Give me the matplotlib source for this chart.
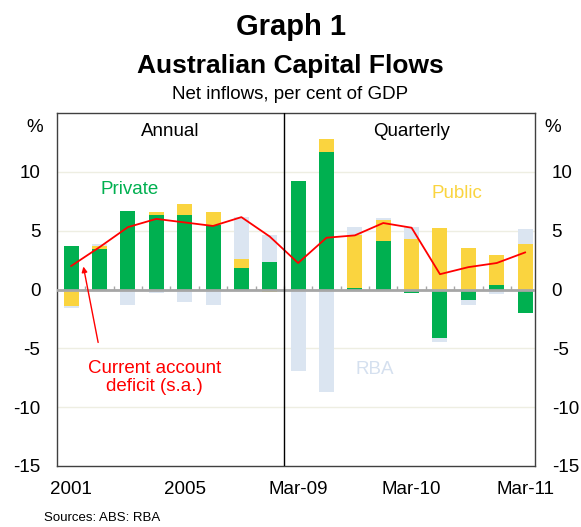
import numpy as np
import matplotlib.pyplot as plt

plt.rcParams['font.family'] = ['Liberation Sans', 'DejaVu Sans']

# periods: 2001-2008 annual, Mar-09 to Mar-11 quarterly
periods = ['2001', '2002', '2003', '2004', '2005', '2006', '2007', '2008',
           'Mar-09', 'Jun-09', 'Sep-09', 'Dec-09', 'Mar-10', 'Jun-10',
           'Sep-10', 'Dec-10', 'Mar-11']
private = [3.7, 3.4, 6.7, 6.3, 6.3, 5.5, 1.8, 2.3,
           9.2, 11.7, 0.1, 4.1, -0.3, -4.15, -0.85, 0.4, -2.0]
public = [-1.4, 0.3, -0.15, 0.3, 0.95, 1.05, 0.8, -0.25,
          -0.05, 1.1, 4.5, 1.8, 4.3, 5.2, 3.5, 2.5, 3.9]
rba = [-0.15, 0.2, -1.2, -0.3, -1.1, -1.35, 3.6, 2.35,
       -6.9, -8.7, 0.7, 0.15, 1.0, -0.3, -0.5, -0.35, 1.2]
cad = [2.0, 3.6, 5.3, 6.0, 5.7, 5.4, 6.15, 4.5,
       2.25, 4.4, 4.6, 5.65, 5.25, 1.3, 1.9, 2.25, 3.15]

tick_pos = [0, 4, 8, 12, 16]
tick_labels = ['2001', '2005', 'Mar-09', 'Mar-10', 'Mar-11']
y_ticks = [-15, -10, -5, 0, 5, 10]

GREEN = '#00B050'
YELLOW = '#FAD43F'
BLUE = '#DBE5F1'
RED = '#FF0000'

fig = plt.figure(figsize=(5.81, 5.27), dpi=100)
ax = fig.add_axes([57/581, 1 - 466/527, (535 - 57)/581, (466 - 113)/527])

x = np.arange(len(periods))
w = 0.53
pos_base = np.zeros(len(x))
neg_base = np.zeros(len(x))
for vals, col in [(private, GREEN), (public, YELLOW), (rba, BLUE)]:
    v = np.array(vals, dtype=float)
    p = np.where(v > 0, v, 0)
    n = np.where(v < 0, v, 0)
    ax.bar(x, p, w, bottom=pos_base, color=col, zorder=2)
    ax.bar(x, n, w, bottom=neg_base, color=col, zorder=2)
    pos_base += p
    neg_base += n

ax.plot(x, cad, color=RED, lw=1.3, zorder=4)

# grid, zero line and small ticks
for g in [-10, -5, 5, 10]:
    ax.axhline(g, color='#EEEEE2', lw=1, zorder=0)
ax.axhline(0, color='#A6A6A6', lw=2, zorder=3)
ax.vlines(x[:-1] + 0.5, 0, 0.3, color='#A6A6A6', lw=1, zorder=3)
ax.axvline(7.5, color='black', lw=1, zorder=5)

ax.set_xlim(-0.5, 16.35)
ax.set_ylim(-15, 15)
ax.set_yticks(y_ticks)
ax.set_yticklabels([str(t) for t in y_ticks])
ax.tick_params(axis='y', length=0, labelsize=13.5, labelleft=True,
               labelright=True, pad=12)
ax.set_xticks(tick_pos)
ax.set_xticklabels(tick_labels)
ax.tick_params(axis='x', length=0, labelsize=13.5, pad=11)
for s in ax.spines.values():
    s.set_color('#404040')
    s.set_linewidth(1)

ax.text(-0.03, (466 - 128)/353, '%', transform=ax.transAxes,
        fontsize=13.5, ha='right', va='center')
ax.text(1.02, (466 - 128)/353, '%', transform=ax.transAxes, fontsize=13.5,
        ha='left', va='center')

ax.text(3.5, 13.4, 'Annual', fontsize=13.5, ha='center', va='center')
ax.text(12, 13.4, 'Quarterly', fontsize=13.5, ha='center', va='center')
ax.text(2.05, 8.5, 'Private', fontsize=13.5, color=GREEN, ha='center',
        va='center')
ax.text(13.6, 8.2, 'Public', fontsize=13.5, color=YELLOW, ha='center',
        va='center')
ax.text(10.7, -6.8, 'RBA', fontsize=13.5, color='#D5E0EF', ha='center',
        va='center')
ax.text(2.95, -7.5, 'Current account\ndeficit (s.a.)', fontsize=13.5,
        color=RED, ha='center', va='center', linespacing=1.05)
ax.annotate('', xy=(0.43, 1.95), xytext=(0.95, -4.5),
            arrowprops=dict(arrowstyle='-|>', color=RED, lw=1,
                            mutation_scale=8, shrinkA=0, shrinkB=0))

fig.text(0.5, 1 - 35/527, 'Graph 1', fontsize=21, fontweight='bold',
         ha='center', va='baseline')
fig.text(0.5, 1 - 73/527, 'Australian Capital Flows', fontsize=19,
         fontweight='bold', ha='center', va='baseline')
fig.text(0.5, 1 - 99/527, 'Net inflows, per cent of GDP', fontsize=13.5,
         ha='center', va='baseline')
fig.text(44/581, 1 - 518/527, 'Sources: ABS: RBA', fontsize=9.5,
         ha='left', va='center')

fig.savefig('out.png', dpi=100)
